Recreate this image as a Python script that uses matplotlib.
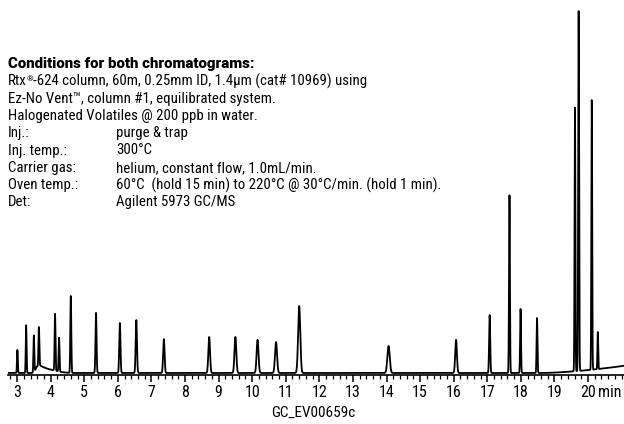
import numpy as np
import matplotlib.pyplot as plt
from matplotlib.ticker import MultipleLocator

plt.rcParams['font.family'] = ['Roboto Condensed', 'DejaVu Sans']

# peak table (retention time in min, relative response %)
ret_times = [3.01, 3.27, 3.50, 3.65, 4.13, 4.25, 4.60, 5.35, 6.06, 6.55,
             7.37, 8.72, 9.50, 10.16, 10.71, 11.40, 14.06, 16.07, 17.07,
             17.66, 17.99, 18.48, 19.61, 19.72, 20.11, 20.29]
heights = [6.4, 13.3, 10.3, 10.8, 15.8, 9.4, 21.4, 16.7, 13.9, 14.7,
           9.4, 10.0, 10.0, 9.2, 8.6, 18.6, 7.5, 9.2, 16.1,
           49.4, 17.8, 15.3, 73.3, 100.0, 75.0, 10.3]
widths = [0.012, 0.012, 0.013, 0.013, 0.013, 0.013, 0.014, 0.016, 0.018,
          0.019, 0.021, 0.025, 0.027, 0.028, 0.030, 0.032, 0.035, 0.025,
          0.016, 0.013, 0.013, 0.013, 0.012, 0.013, 0.012, 0.011]

# broad early hump (start, level, decay) and late baseline rise (start, rise at end)
hump = (3.55, 2.0, 0.40)
drift = (18.6, 2.0)

t_min, t_max = 2.73, 21.07

t = np.linspace(t_min, t_max, 8000)
signal = np.zeros_like(t)
for rt, h, w in zip(ret_times, heights, widths):
    signal += h * np.exp(-0.5 * ((t - rt) / w) ** 2)

start, level, decay = hump
rise = 1.0 / (1.0 + np.exp(-(t - start) / 0.02))
signal += level * rise * np.exp(-np.clip(t - start - 0.15, 0, None) / decay) \
    * np.clip((4.65 - t) / 0.5, 0, 1)

d_start, d_end = drift
signal += d_end * np.clip((t - d_start) / (t_max - d_start), 0, None) ** 1.6

fig = plt.figure(figsize=(6.24, 4.24), dpi=100)
ax = fig.add_axes([8 / 624, 49 / 424, 616 / 624, 375 / 424])
ax.plot(t, signal, color='black', lw=1.3)
ax.set_xlim(t_min, t_max)
ax.set_ylim(-0.56, 103.6)

for s in ['top', 'right', 'left']:
    ax.spines[s].set_visible(False)
ax.spines['bottom'].set_linewidth(1.2)
ax.set_yticks([])
ax.xaxis.set_minor_locator(MultipleLocator(0.2))
ax.set_xticks(range(3, 21))
ax.tick_params(axis='x', which='major', direction='out', length=5, width=1.1,
               labelsize=11.5, pad=2)
ax.tick_params(axis='x', which='minor', direction='out', length=3, width=0.9)
ax.annotate('min', xy=(20.3, 0), xycoords=('data', 'axes fraction'),
            xytext=(0, -7), textcoords='offset points',
            fontsize=11.5, va='top', ha='left')

lines = [
    'Ez-No Vent™, column #1, equilibrated system.',
    'Halogenated Volatiles @ 200 ppb in water.',
]
labels = ['Inj.:', 'Inj. temp.:', 'Carrier gas:', 'Oven temp.:', 'Det:']
values = ['purge & trap', '300°C', 'helium, constant flow, 1.0mL/min.',
          '60°C  (hold 15 min) to 220°C @ 30°C/min. (hold 1 min).',
          'Agilent 5973 GC/MS']


def fy(y):
    return 1 - y / 424


fs = 10.7
fig.text(8 / 624, fy(64), 'Conditions for both chromatograms:',
         family=['Roboto', 'DejaVu Sans'], weight='black',
         fontsize=10.8, va='center')

# first line with a small raised registered mark
y = 64 + 17.3
rtx = fig.text(8 / 624, fy(y), 'Rtx', fontsize=fs, va='center')
reg = ax.annotate('®', xy=(1.0, 0.45), xycoords=rtx, fontsize=6,
                  va='bottom', ha='left')
ax.annotate('-624 column, 60m, 0.25mm ID, 1.4µm (cat# 10969) using',
            xy=(1.0, 0.5), xycoords=(reg, rtx), fontsize=fs,
            va='center', ha='left')

for line in lines:
    y += 17.3
    fig.text(8 / 624, fy(y), line, fontsize=fs, va='center')
for lab, val in zip(labels, values):
    y += 17.3
    fig.text(8 / 624, fy(y), lab, fontsize=fs, va='center')
    fig.text(116 / 624, fy(y), val, fontsize=fs, va='center')

fig.text(313 / 624, fy(413), 'GC_EV00659c', fontsize=11, ha='center',
         va='center')

fig.savefig('out.png', dpi=100)
